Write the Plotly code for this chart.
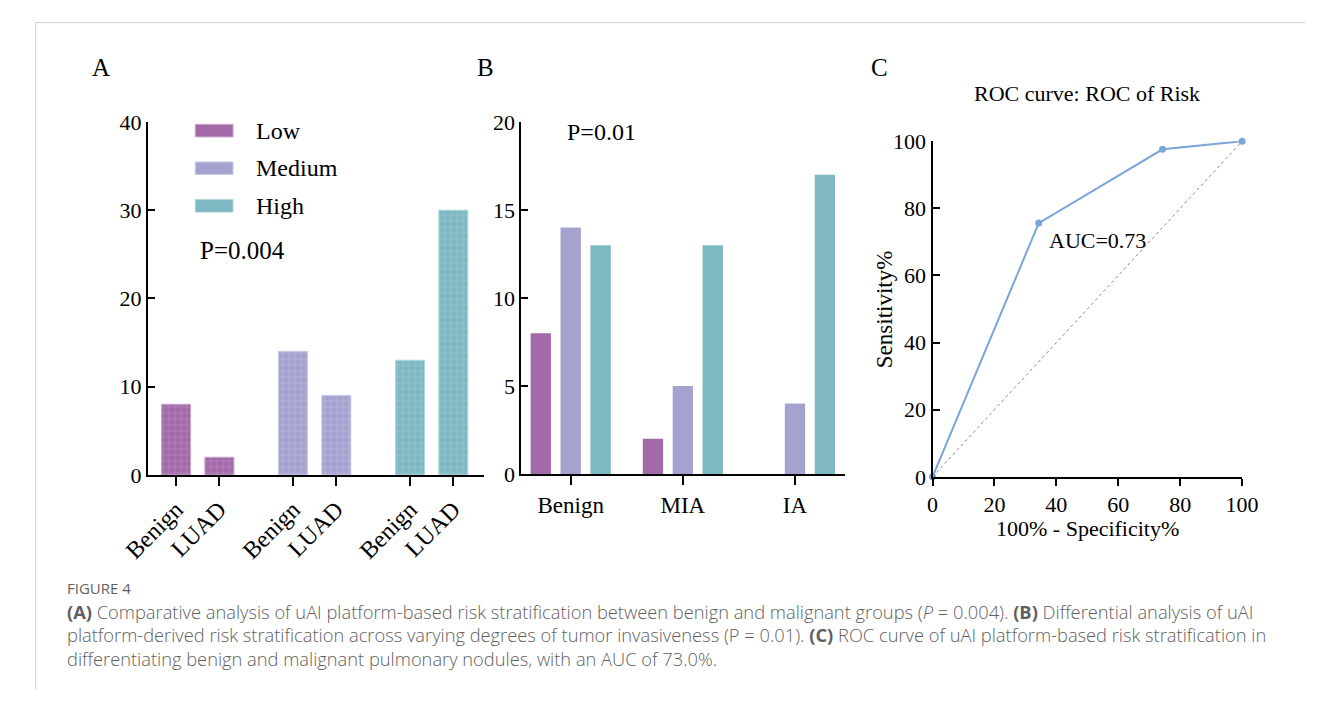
import plotly.graph_objects as go

# ---------------- data ----------------
risk_levels = ["Low", "Medium", "High"]
groups_a = ["Benign", "LUAD"]
a_low = [8, 2]
a_medium = [14, 9]
a_high = [13, 30]

cats_b = ["Benign", "MIA", "IA"]
b_low = [8, 2, 0]
b_medium = [14, 5, 4]
b_high = [13, 13, 17]

roc_fpr = [0, 34.3, 74.3, 100]
roc_tpr = [0, 75.6, 97.6, 100]
diag = [0, 100]

a_y_ticks = [0, 10, 20, 30, 40]
b_y_ticks = [0, 5, 10, 15, 20]
c_ticks = [0, 20, 40, 60, 80, 100]

# ---------------- style ----------------
W, H = 1322, 702
colors = {"Low": "#a36aa9", "Medium": "#a4a3d0", "High": "#7eb8c3"}
grid_colors = {"Low": "#c9a3cc", "Medium": "#c8c8e6", "High": "#b0d6dc"}
SERIF = "Liberation Serif"
GROUP_STEP = 2.7
BAR_W = 0.67


def px(x):
    return x / W


def py(y):
    return 1 - y / H


fig = go.Figure()

a_vals = {"Low": a_low, "Medium": a_medium, "High": a_high}
a_positions_all = []
a_labels_all = []
for g, lvl in enumerate(risk_levels):
    pos = [g * GROUP_STEP + j for j in range(len(groups_a))]
    a_positions_all += pos
    a_labels_all += groups_a
    fig.add_trace(go.Bar(
        x=pos, y=a_vals[lvl], name=lvl, xaxis="x", yaxis="y",
        width=BAR_W, offset=-BAR_W / 2,
        marker=dict(color=colors[lvl],
                    line=dict(color=grid_colors[lvl], width=1),
                    pattern=dict(shape="+", size=6, solidity=0.12,
                                 fgcolor=grid_colors[lvl], fgopacity=0.9)),
        showlegend=False,
    ))

b_vals = {"Low": b_low, "Medium": b_medium, "High": b_high}
for lvl in risk_levels:
    fig.add_trace(go.Bar(
        x=cats_b, y=b_vals[lvl], name=lvl, xaxis="x2", yaxis="y2",
        marker=dict(color=colors[lvl], line=dict(width=0)),
        showlegend=False,
    ))

fig.add_trace(go.Scatter(
    x=diag, y=diag, mode="lines", xaxis="x3", yaxis="y3",
    line=dict(color="#8a8a8a", width=1, dash="dot"), showlegend=False,
))
fig.add_trace(go.Scatter(
    x=roc_fpr, y=roc_tpr, mode="lines+markers", xaxis="x3", yaxis="y3",
    line=dict(color="#7aa5da", width=2),
    marker=dict(color="#7aa5da", size=7), cliponaxis=False, showlegend=False,
))

axis_common = dict(showline=True, linecolor="black", linewidth=2,
                   showgrid=False, zeroline=False,
                   tickcolor="black", tickwidth=2)
num_font = dict(family=SERIF, size=22, color="black")

y_dom = [py(480), py(114)]
fig.update_layout(
    width=W, height=H,
    margin=dict(l=0, r=0, t=0, b=0),
    paper_bgcolor="white", plot_bgcolor="white",
    barmode="group", bargap=0.2, bargroupgap=0.32,
    xaxis=dict(domain=[px(126), px(473)], range=[-0.65, 7.1],
               tickvals=a_positions_all, ticktext=a_labels_all,
               tickangle=-45, ticks="outside", ticklen=9, anchor="y",
               tickfont=dict(family=SERIF, size=24, color="black"),
               **axis_common),
    yaxis=dict(domain=y_dom, range=[0, 40], tickvals=a_y_ticks,
               ticks="inside", ticklen=7, anchor="x", tickfont=num_font,
               **axis_common),
    xaxis2=dict(domain=[px(512), px(847)], range=[-0.44, 2.45],
                ticks="outside", ticklen=9, anchor="y2",
                tickfont=dict(family=SERIF, size=23, color="black"),
                **axis_common),
    yaxis2=dict(domain=[py(479), py(114)], range=[0, 20], tickvals=b_y_ticks,
                ticks="inside", ticklen=7, anchor="x2", tickfont=num_font,
                **axis_common),
    xaxis3=dict(domain=[px(937), px(1257)], range=[0, 100], tickvals=c_ticks,
                ticks="outside", ticklen=7, anchor="y3", tickfont=num_font,
                **axis_common),
    yaxis3=dict(domain=[py(482), py(134)], range=[0, 100], tickvals=c_ticks,
                ticks="inside", ticklen=7, anchor="x3", tickfont=num_font,
                **axis_common),
)

ann = []


def add_text(x, y, text, size=21, xanchor="left", color="black", family=SERIF,
             textangle=0, weight=None):
    f = dict(family=family, size=size, color=color)
    if weight is not None:
        f["weight"] = weight
    ann.append(dict(x=px(x), y=py(y), xref="paper", yref="paper", text=text,
                    showarrow=False, xanchor=xanchor, yanchor="middle",
                    font=f, textangle=textangle))


# panel letters
add_text(78, 58, "A", size=25, xanchor="center")
add_text(475, 58, "B", size=25, xanchor="center")
add_text(882, 58, "C", size=25, xanchor="center")

# legend (panel A)
legend_rows = {"Low": 123, "Medium": 162, "High": 201}
shapes = []
for lvl in risk_levels:
    yc = legend_rows[lvl]
    shapes.append(dict(type="rect", xref="paper", yref="paper",
                       x0=px(175), x1=px(214), y0=py(yc + 6.5), y1=py(yc - 6.5),
                       fillcolor=colors[lvl],
                       line=dict(color=grid_colors[lvl], width=1)))
    add_text(236, yc, lvl, size=24)

add_text(178, 247, "P=0.004", size=25)
add_text(557, 124, "P=0.01", size=24)

# panel C texts
add_text(1097, 85, "ROC curve: ROC of Risk", size=22, xanchor="center")
add_text(1055, 237, "AUC=0.73", size=22)
add_text(1097, 536, "100% - Specificity%", size=22, xanchor="center")
add_text(887, 308, "Sensitivity%", size=23, xanchor="center", textangle=-90)

# caption
cap_font = "Open Sans"
cap_color = "#5f5f5f"
add_text(40, 597, "FIGURE 4", size=15, color=cap_color, family=cap_font)
caption_lines = [
    "<b>(A)</b> Comparative analysis of uAI platform-based risk stratification between benign and malignant groups (<i>P</i> = 0.004). <b>(B)</b> Differential analysis of uAI",
    "platform-derived risk stratification across varying degrees of tumor invasiveness (P = 0.01). <b>(C)</b> ROC curve of uAI platform-based risk stratification in",
    "differentiating benign and malignant pulmonary nodules, with an AUC of 73.0%.",
]
for i, line in enumerate(caption_lines):
    add_text(40, 622 + i * 24, line, size=18.3, color=cap_color, family=cap_font,
             weight=300)

# frame lines
shapes.append(dict(type="line", xref="paper", yref="paper",
                   x0=px(10), x1=1, y0=py(11), y1=py(11),
                   line=dict(color="#cfcfcf", width=1)))
shapes.append(dict(type="line", xref="paper", yref="paper",
                   x0=px(10), x1=px(10), y0=py(11), y1=0,
                   line=dict(color="#cfcfcf", width=1)))

fig.update_layout(annotations=ann, shapes=shapes)
fig.write_html(
    "out.html",
    config={"displayModeBar": False},
    post_script="document.body.style.margin='0';document.body.style.padding='0';"
                "document.documentElement.style.overflow='hidden';",
)
